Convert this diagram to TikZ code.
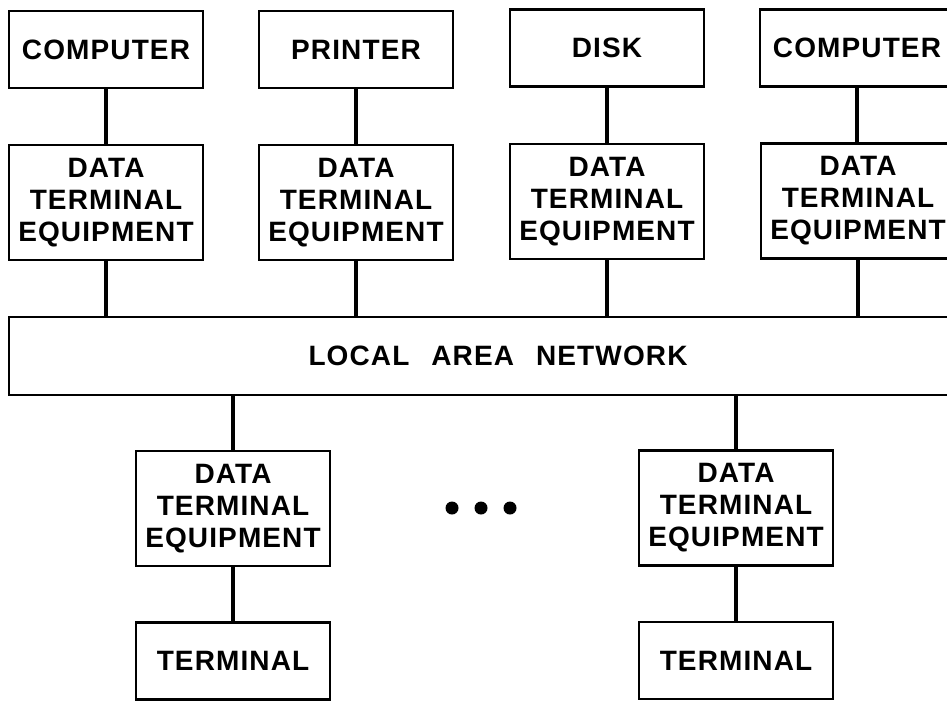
\documentclass[tikz,border=0pt]{standalone}
\usepackage{fontspec}
\setmainfont{Liberation Sans}[LetterSpace=4.0]
\begin{document}
\begin{tikzpicture}[x=1pt,y=-1pt,
  box/.style={draw, line width=2.9pt, minimum width=194pt, inner sep=0pt, align=center,
    font=\fontsize{28}{32}\selectfont\bfseries},
  small/.style={box, minimum height=77pt},
  dte/.style={box, minimum height=115pt},
  lanbox/.style={box, minimum width=978pt, minimum height=78pt},
  link/.style={line width=3.8pt},
  dot/.style={circle, fill=black, inner sep=0pt, minimum size=13pt}]
\useasboundingbox (0,0) rectangle (947,701);
\clip (0,0) rectangle (947,701);
% top row
\node[small] (c1) at (106,49.5) {COMPUTER};
\node[small] (pr) at (356,49.5) {PRINTER};
\node[small] (dk) at (607,48) {DISK};
\node[small] (c2) at (857,48) {COMPUTER};
\node[dte] (d1) at (106,202.5) {DATA\\TERMINAL\\EQUIPMENT};
\node[dte] (d2) at (356,202.5) {DATA\\TERMINAL\\EQUIPMENT};
\node[dte] (d3) at (607,201.5) {DATA\\TERMINAL\\EQUIPMENT};
\node[dte] (d4) at (858,201) {DATA\\TERMINAL\\EQUIPMENT};
% LAN
\node[lanbox] (lan) at (498,356) {LOCAL\hspace{22pt}AREA\hspace{22pt}NETWORK};
% bottom
\node[dte] (b1) at (233,508.5) {DATA\\TERMINAL\\EQUIPMENT};
\node[dte] (b2) at (736,508) {DATA\\TERMINAL\\EQUIPMENT};
\node[small] (t1) at (233,661) {TERMINAL};
\node[small] (t2) at (736,660.5) {TERMINAL};
% dots
\node[dot] (e1) at (452,508) {};
\node[dot] (e2) at (481,508) {};
\node[dot] (e3) at (510,508) {};
% connectors
\draw[link] (c1) -- (d1);
\draw[link] (pr) -- (d2);
\draw[link] (dk) -- (d3);
\draw[link] (c2.south) -- (c2.south |- d4.north);
\draw[link] (d1.south) -- (d1.south |- lan.north);
\draw[link] (d2.south) -- (d2.south |- lan.north);
\draw[link] (d3.south) -- (d3.south |- lan.north);
\draw[link] (d4.south) -- (d4.south |- lan.north);
\draw[link] (b1.north |- lan.south) -- (b1.north);
\draw[link] (b2.north |- lan.south) -- (b2.north);
\draw[link] (b1) -- (t1);
\draw[link] (b2) -- (t2);
\end{tikzpicture}
\end{document}
